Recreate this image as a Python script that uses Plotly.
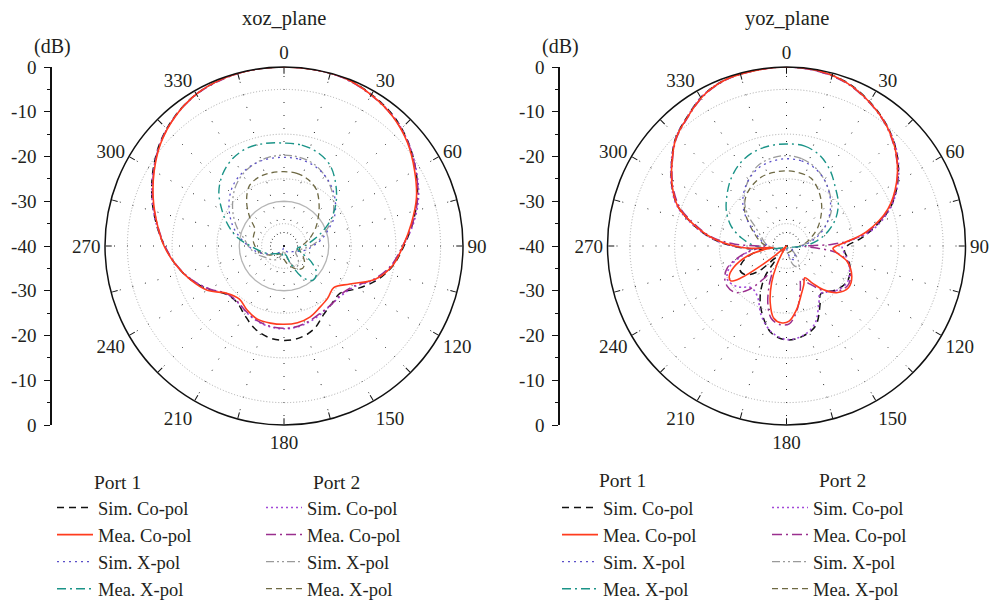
import plotly.graph_objects as go

# The page body keeps its default 8px margin, so the figure is drawn 8px in and
# sized to fill the rest of the 999x605 window.
OX, OY = 8, 8
FW, FH = 999 - OX, 605 - OY
FONT = "Liberation Serif"

# ---------------- data ----------------
ANG10 = [0, 10, 20, 30, 40, 50, 60, 70, 80, 90, 100, 110, 120, 130, 140, 150, 160, 170, 180,
         190, 200, 210, 220, 230, 240, 250, 260, 270, 280, 290, 300, 310, 320, 330, 340, 350, 360]
ANG_TICKS = [0, 15, 30, 45, 60, 75, 90, 105, 120, 135, 150, 165, 180, 195, 210, 225, 240, 255,
             270, 285, 300, 315, 330, 345]
ANG_TICKTEXT = ["0", "", "30", "", "60", "", "90", "", "120", "", "150", "", "180", "", "210", "",
                "240", "", "270", "", "300", "", "330", ""]
DB_TICKVALS = [-40, -30, -20, -10, 0, 10, 20, 30, 40]
DB_TICKTEXT = ["0", "-10", "-20", "-30", "-40", "-30", "-20", "-10", "0"]
GRID_DB = [-35, -25, -15, -5]

# xoz plane (10 degree steps)
XOZ_P1_SIM_CO = [0, 0, -0.1, -0.9, -2.0, -3.8, -6.0, -8.3, -10.8, -13.2, -15.2, -17.8, -21.0, -23.6,
                 -23.3, -22.3, -20.3, -19.2, -18.9, -19.3, -20.5, -22.3, -23.6, -23.2, -20.6, -17.9,
                 -15.5, -13.3, -11.0, -8.6, -6.2, -3.9, -2.1, -0.8, -0.2, 0, 0]
XOZ_P1_MEA_CO = [0, 0, -0.1, -1.0, -2.2, -4.0, -6.3, -8.5, -11.1, -13.4, -15.3, -18.3, -23.0, -25.5,
                 -24.8, -24.1, -23.1, -22.6, -22.5, -22.5, -22.6, -23.5, -24.5, -23.5, -20.2, -17.8,
                 -15.5, -13.2, -11.2, -8.9, -6.5, -4.1, -2.2, -0.8, -0.2, 0, 0]
XOZ_P1_SIM_X = [-20.2, -20.3, -20.8, -21.8, -23.2, -25.0, -27.0, -29.5, -31.5, -33.5, -35.0, -36.5,
                -37.5, -38.0, -38.5, -38.5, -39.0, -39.5, -39.5, -39.5, -39.0, -38.5, -38.0, -37.5,
                -36.5, -35.0, -33.5, -32.0, -30.2, -28.0, -26.0, -24.0, -22.3, -21.2, -20.5, -20.2, -20.2]
XOZ_P1_MEA_X = [-17.0, -17.1, -17.8, -19.3, -22.0, -24.8, -27.8, -31.0, -33.7, -35.5, -37.0, -36.0,
                -33.0, -30.5, -30.0, -32.0, -36.0, -38.0, -37.5, -38.0, -38.5, -38.0, -37.8, -37.3,
                -36.5, -35.5, -34.3, -32.5, -29.5, -26.8, -24.0, -21.0, -18.8, -17.3, -16.6, -16.7, -17.0]
XOZ_P2_SIM_CO = [0, 0, -0.2, -1.0, -2.1, -3.8, -5.9, -8.0, -10.6, -13.4, -15.5, -18.2, -21.8, -23.0,
                 -23.2, -22.8, -22.2, -21.7, -21.5, -21.7, -22.2, -23.0, -23.7, -23.3, -20.7, -18.0,
                 -15.5, -13.3, -11.0, -8.6, -6.3, -4.0, -2.2, -0.8, -0.2, 0, 0]
XOZ_P2_MEA_CO = [0, 0, -0.2, -1.1, -2.2, -3.9, -6.0, -8.2, -10.8, -13.5, -15.6, -18.5, -22.0, -23.3,
                 -23.2, -23.0, -22.4, -21.8, -21.6, -21.8, -22.3, -23.1, -23.8, -23.4, -20.8, -18.0,
                 -15.6, -13.4, -11.2, -8.8, -6.4, -4.0, -2.2, -0.9, -0.3, 0, 0]
XOZ_P2_SIM_X = [-19.7, -19.9, -20.5, -21.8, -23.5, -25.5, -27.5, -30.0, -32.0, -34.0, -36.0, -37.0,
                -37.0, -36.0, -35.0, -34.5, -36.0, -38.0, -39.0, -38.5, -37.5, -36.5, -36.0, -35.5,
                -35.0, -34.0, -33.0, -32.0, -31.0, -29.0, -27.0, -25.0, -23.0, -21.5, -20.5, -19.9, -19.7]
XOZ_P2_MEA_X = [-23.4, -23.5, -24.2, -25.5, -27.8, -30.0, -31.8, -33.5, -35.0, -36.0, -36.5, -36.0,
                -35.0, -34.0, -33.5, -34.0, -35.0, -36.0, -37.0, -37.5, -38.0, -38.0, -37.5, -37.0,
                -36.0, -35.0, -34.0, -33.5, -33.0, -32.8, -32.5, -30.0, -27.0, -24.5, -23.6, -23.4, -23.4]
XOZ_RING = [-30, -30, -30, -30, -30, -30, -30, -30, -30, -30, -30, -30, -30, -30, -30, -30, -30, -30,
            -30, -30, -30, -30, -30, -30, -30, -30, -30, -30, -30, -30, -30, -30, -30, -30, -30, -30, -30]

# yoz plane
YOZ_P1_SIM_CO_T = [0, 10, 20, 30, 40, 50, 60, 70, 80, 85, 90, 95, 100, 110, 120, 130, 140, 145, 150,
                   160, 170, 180, 190, 200, 208, 215, 221, 228, 235, 243, 250, 257, 262, 266, 270,
                   275, 282, 290, 297, 305, 314, 322, 331, 340, 350, 360]
YOZ_P1_SIM_CO = [0, -0.2, -1.0, -2.8, -5.0, -7.8, -11.3, -15.4, -21.0, -23.8, -26.5, -27, -26.3,
                 -24.8, -24.3, -25.0, -26.5, -26.8, -25.0, -21.0, -19.5, -19.0, -20.3, -24.0, -27.5,
                 -31.5, -36.5, -31.5, -28.8, -28.3, -29.5, -32.0, -34.5, -31.5, -28.0, -23.8, -19.2,
                 -14.2, -11.3, -8.6, -5.5, -3.7, -1.5, -0.4, -0.1, 0]
YOZ_P1_MEA_CO_T = [0, 10, 20, 30, 40, 50, 60, 70, 80, 85, 90, 93, 97, 104, 115, 124, 133, 140, 145,
                   150, 156, 162, 171, 178, 184, 190, 196, 202, 207, 212, 220, 228, 232, 235, 238,
                   242, 248, 256, 261, 263.5, 266, 268, 275, 282, 290, 297, 305, 314, 322, 331, 340,
                   350, 360]
YOZ_P1_MEA_CO = [0, -0.2, -1.1, -2.9, -5.1, -8.0, -11.6, -15.9, -21.9, -25.9, -28.9, -29.6, -28.9,
                 -26.1, -23.9, -23.3, -24.7, -27.3, -29.8, -31.8, -30.5, -29.0, -25.6, -23.2, -22.8,
                 -23.6, -26.8, -31.1, -35.0, -38.5, -40, -39, -33.5, -27.5, -25.3, -25.5, -27.3,
                 -31.2, -35.0, -37.0, -32.7, -30.0, -24.2, -19.4, -14.2, -11.4, -8.7, -5.6, -3.8,
                 -1.6, -0.4, -0.15, 0]
YOZ_P1_SIM_X = [-20.5, -20.7, -21.5, -23.0, -25.0, -27.2, -29.5, -32.0, -34.5, -36.5, -38.0, -38.5,
                -38.5, -38.0, -37.0, -36.5, -37.0, -38.5, -39.5, -39.5, -39.5, -39.5, -39.0, -38.5,
                -38.0, -37.5, -37.0, -36.0, -34.5, -33.0, -30.5, -27.5, -25.0, -23.0, -21.5, -20.8, -20.5]
YOZ_P1_MEA_X = [-17.2, -17.3, -18.4, -20.5, -23.0, -24.9, -27.2, -30.0, -33.0, -36.0, -38.5, -39.5,
                -39.5, -39.5, -39.5, -39.5, -39.5, -39.5, -39.5, -39.5, -39.5, -39.5, -39.5, -39.5,
                -39.5, -38.5, -36.5, -33.0, -29.8, -26.8, -24.5, -22.6, -20.6, -18.9, -17.8, -17.3, -17.2]
YOZ_P2_SIM_CO_T = [0, 10, 20, 30, 40, 50, 60, 70, 80, 90, 100, 110, 120, 130, 140, 145, 150, 160,
                   170, 180, 190, 200, 210, 220, 230, 240, 250, 258, 265, 270, 275, 282, 290, 297,
                   305, 314, 322, 331, 340, 350, 360]
YOZ_P2_SIM_CO = [0, -0.3, -1.1, -2.9, -5.0, -7.7, -11.2, -15.3, -20.8, -27.5, -26.5, -25.0, -24.2,
                 -24.8, -26.5, -27.0, -25.5, -21.5, -19.6, -19.1, -20.5, -23.5, -27.0, -27.8, -25.8,
                 -24.8, -26.5, -30.0, -32.0, -28.0, -23.8, -19.0, -14.0, -11.2, -8.5, -5.5, -3.7,
                 -1.5, -0.4, -0.1, 0]
YOZ_P2_MEA_CO_T = [0, 10, 20, 30, 40, 50, 60, 70, 80, 85, 88, 91, 94, 98, 105, 115, 122, 130, 140,
                   150, 156, 162, 170, 178, 185, 192, 198, 204, 210, 215, 221, 228, 236, 243, 250,
                   258, 264, 268, 272, 277, 284, 290, 297, 305, 314, 322, 331, 340, 350, 360]
YOZ_P2_MEA_CO = [0, -0.3, -1.2, -3.0, -5.2, -8.1, -11.5, -15.6, -21.5, -25.8, -30.0, -36.0, -33.0,
                 -28.5, -25.7, -24.2, -23.7, -24.5, -27.0, -30.5, -32.0, -30.0, -25.8, -22.6, -22.4,
                 -23.5, -26.5, -30.5, -33.5, -31.0, -27.0, -24.5, -24.0, -24.5, -26.0, -29.5, -33.0,
                 -35.5, -28.5, -23.0, -18.5, -14.6, -11.6, -8.8, -5.7, -3.9, -1.7, -0.5, -0.2, 0]
YOZ_P2_SIM_X = [-19.8, -20.2, -21.3, -23.0, -24.9, -26.8, -29.5, -32.5, -35.0, -37.0, -38.5, -39.0,
                -39.0, -38.0, -36.0, -34.5, -35.5, -38.0, -39.0, -39.0, -39.0, -39.0, -39.0, -39.0,
                -39.0, -38.5, -37.5, -36.0, -35.0, -34.0, -32.2, -28.5, -25.3, -23.0, -21.0, -20.1, -19.8]
YOZ_P2_MEA_X = [-23.2, -23.4, -23.9, -25.7, -27.8, -30.0, -32.0, -34.0, -35.5, -37.0, -38.0, -38.5,
                -38.5, -38.5, -38.5, -38.5, -38.5, -38.5, -38.5, -38.5, -38.5, -38.5, -38.5, -38.5,
                -38.5, -38.5, -37.0, -35.5, -34.0, -32.5, -30.5, -27.8, -25.8, -24.5, -23.6, -23.3, -23.2]

LABELS = ["Sim. Co-pol", "Mea. Co-pol", "Sim. X-pol", "Mea. X-pol"]

# ---------------- styles ----------------
STYLE = {
    ("p1", "sim_co"): dict(color="#111111", dash="7px,5px", width=1.5),
    ("p1", "mea_co"): dict(color="#ff3c1e", dash="solid", width=1.6),
    ("p1", "sim_x"): dict(color="#5b4fc9", dash="2px,4px", width=1.3),
    ("p1", "mea_x"): dict(color="#1b9488", dash="9px,4px,2px,4px", width=1.4),
    ("p2", "sim_co"): dict(color="#a24ad8", dash="2px,3px", width=1.6),
    ("p2", "mea_co"): dict(color="#9a2f8e", dash="10px,4px,2px,4px", width=1.5),
    ("p2", "sim_x"): dict(color="#9a9a9a", dash="8px,3px,2px,3px,2px,3px", width=1.3),
    ("p2", "mea_x"): dict(color="#6e6944", dash="6px,4px", width=1.3),
}
RANK = {"sim_co": 1, "mea_co": 2, "sim_x": 3, "mea_x": 4}
NAME = {"sim_co": LABELS[0], "mea_co": LABELS[1], "sim_x": LABELS[2], "mea_x": LABELS[3]}


def px(x):
    return (x - OX) / FW


def py(y):
    return 1 - (y - OY) / FH


fig = go.Figure()


def add(theta, r, port, kind, subplot, legend):
    st = STYLE[(port, kind)]
    fig.add_trace(go.Scatterpolar(
        theta=theta, r=r, mode="lines", subplot=subplot, legend=legend,
        name=NAME[kind], legendrank=RANK[kind],
        line=dict(color=st["color"], dash=st["dash"], width=st["width"], shape="spline", smoothing=1),
        hoverinfo="skip"))


# xoz
fig.add_trace(go.Scatterpolar(theta=ANG10, r=XOZ_RING, mode="lines", subplot="polar",
                              showlegend=False, line=dict(color="#b5b5b5", width=1.3), hoverinfo="skip"))
add(ANG10, XOZ_P2_MEA_X, "p2", "mea_x", "polar", "legend2")
add(ANG10, XOZ_P2_SIM_X, "p2", "sim_x", "polar", "legend2")
add(ANG10, XOZ_P1_SIM_X, "p1", "sim_x", "polar", "legend")
add(ANG10, XOZ_P1_MEA_X, "p1", "mea_x", "polar", "legend")
add(ANG10, XOZ_P1_SIM_CO, "p1", "sim_co", "polar", "legend")
add(ANG10, XOZ_P2_SIM_CO, "p2", "sim_co", "polar", "legend2")
add(ANG10, XOZ_P2_MEA_CO, "p2", "mea_co", "polar", "legend2")
add(ANG10, XOZ_P1_MEA_CO, "p1", "mea_co", "polar", "legend")

# yoz
add(ANG10, YOZ_P2_MEA_X, "p2", "mea_x", "polar2", "legend4")
add(ANG10, YOZ_P2_SIM_X, "p2", "sim_x", "polar2", "legend4")
add(ANG10, YOZ_P1_SIM_X, "p1", "sim_x", "polar2", "legend3")
add(ANG10, YOZ_P1_MEA_X, "p1", "mea_x", "polar2", "legend3")
add(YOZ_P1_SIM_CO_T, YOZ_P1_SIM_CO, "p1", "sim_co", "polar2", "legend3")
add(YOZ_P2_SIM_CO_T, YOZ_P2_SIM_CO, "p2", "sim_co", "polar2", "legend4")
add(YOZ_P2_MEA_CO_T, YOZ_P2_MEA_CO, "p2", "mea_co", "polar2", "legend4")
add(YOZ_P1_MEA_CO_T, YOZ_P1_MEA_CO, "p1", "mea_co", "polar2", "legend3")

# dummy traces so the dB scales render
fig.add_trace(go.Scatter(x=[None], y=[None], xaxis="x", yaxis="y", showlegend=False, hoverinfo="skip"))
fig.add_trace(go.Scatter(x=[None], y=[None], xaxis="x2", yaxis="y2", showlegend=False, hoverinfo="skip"))

tickfont = dict(family=FONT, size=19, color="#231f20")


def polar_layout(x0, x1):
    return dict(
        domain=dict(x=[px(x0), px(x1)], y=[py(425), py(67)]),
        bgcolor="white",
        radialaxis=dict(range=[-40, 0], tickmode="array", tickvals=GRID_DB, showticklabels=False,
                        ticks="", showline=False, gridcolor="#a8a8a8", griddash="1px,2px",
                        gridwidth=1),
        angularaxis=dict(rotation=90, direction="clockwise", tickmode="array",
                         tickvals=ANG_TICKS, ticktext=ANG_TICKTEXT, ticks="inside", ticklen=6,
                         tickwidth=1.2, tickcolor="#111", showline=True, linecolor="#111",
                         linewidth=1.5, gridcolor="#222", griddash="1px,12px", gridwidth=1,
                         tickfont=tickfont),
    )


def db_axis(xa):
    return dict(anchor=xa, domain=[py(425), py(67)], range=[-40, 40], tickmode="array",
                tickvals=DB_TICKVALS, ticktext=DB_TICKTEXT, ticks="outside", ticklen=6,
                tickwidth=1.2, tickcolor="#111", showline=True, linecolor="#111", linewidth=1.5,
                showgrid=False, zeroline=False, tickfont=tickfont, fixedrange=True,
                ticklabelstandoff=4,
                minor=dict(ticks="outside", ticklen=3, tickwidth=1, tickcolor="#111", dtick=5,
                           tick0=0, showgrid=False))


def hidden_x(x0):
    return dict(domain=[px(x0), px(x0 + 8)], visible=False, range=[0, 1], fixedrange=True)


legfont = dict(family=FONT, size=18.5, color="#231f20")


def leg(x_text):
    return dict(x=px(x_text - 50), y=py(489), xanchor="left", yanchor="top", font=legfont,
                itemwidth=36, bgcolor="rgba(0,0,0,0)", borderwidth=0, traceorder="normal",
                tracegroupgap=0)


ann = []
for txt, x, y, anchor, size in [
    ("xoz_plane", 284, 18, "center", 20.5), ("yoz_plane", 787, 18, "center", 20.5),
    ("(dB)", 52, 46, "center", 20), ("(dB)", 560, 46, "center", 20),
    ("Port 1", 92, 482, "left", 19.5), ("Port 2", 311, 482, "left", 19.5),
    ("Port 1", 597, 481, "left", 19.5), ("Port 2", 817, 481, "left", 19.5),
]:
    ann.append(dict(text=txt, x=px(x), y=py(y), xref="paper", yref="paper", xanchor=anchor,
                    yanchor="middle", showarrow=False,
                    font=dict(family=FONT, size=size, color="#231f20")))

fig.update_layout(
    width=FW, height=FH, margin=dict(l=0, r=0, t=0, b=0, autoexpand=False),
    paper_bgcolor="white", plot_bgcolor="white",
    polar=polar_layout(105, 463), polar2=polar_layout(607.5, 965.5),
    xaxis=hidden_x(52), xaxis2=hidden_x(560),
    yaxis=db_axis("x"), yaxis2=db_axis("x2"),
    legend=leg(102), legend2=leg(311), legend3=leg(607), legend4=leg(817),
    annotations=ann, showlegend=True,
)

fig.write_html("out.html")
